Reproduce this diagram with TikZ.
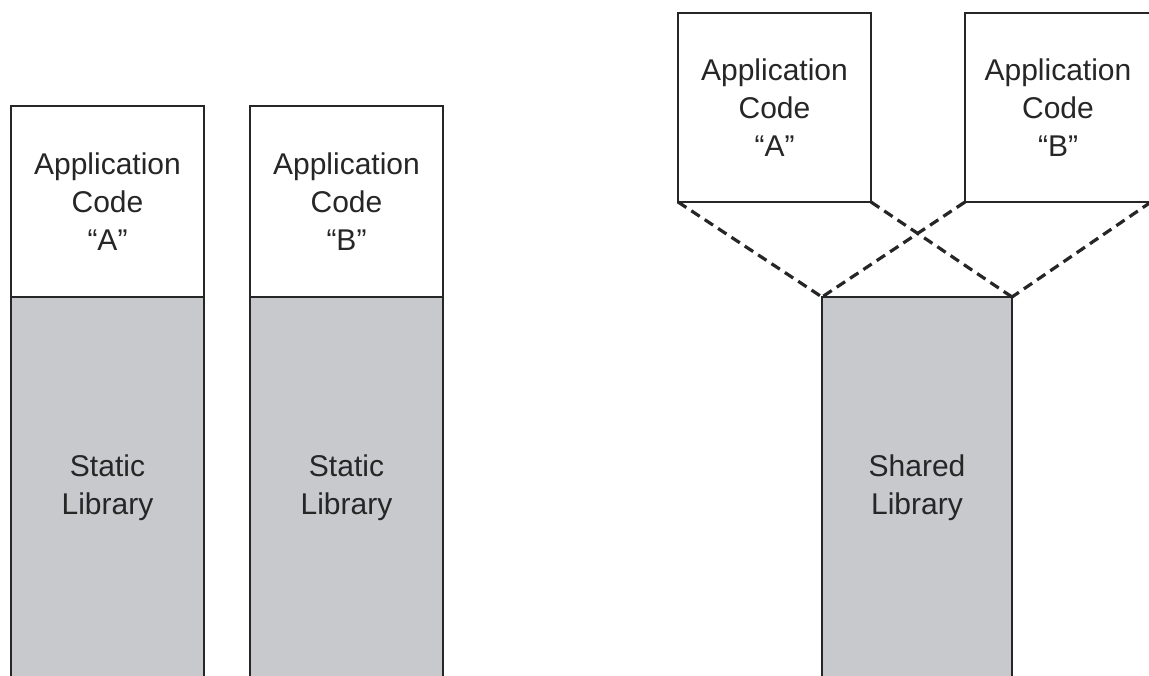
\documentclass[tikz,border=0pt]{standalone}
\usepackage{fontspec}
\setmainfont{Liberation Sans}
\definecolor{libgrey}{HTML}{C8C9CD}
\definecolor{ink}{HTML}{262626}
\begin{document}
\begin{tikzpicture}[x=1pt,y=-1pt,
  box/.style={draw=ink, line width=2.5pt, outer sep=0pt, inner sep=0pt,
    align=center, text=ink, font=\fontsize{30}{38}\selectfont},
  codebox/.style={box, fill=white},
  libbox/.style={box, fill=libgrey},
  link/.style={draw=ink, line width=3.2pt, dash pattern=on 10pt off 6pt}]
\useasboundingbox (0,0) rectangle (1149,675);

% static linking: each program carries its own copy of the library
\node[libbox, minimum width=193pt, minimum height=381pt] (libA) at (107.5,487.5) {Static\\Library};
\node[codebox, minimum width=193pt, minimum height=191pt] (appA) at (107.5,201.5) {Application\\Code\\``A''};
\node[libbox, minimum width=193pt, minimum height=381pt] (libB) at (346.5,487.5) {Static\\Library};
\node[codebox, minimum width=193pt, minimum height=191pt] (appB) at (346.5,201.5) {Application\\Code\\``B''};

% dynamic linking: both programs map one shared library
\node[libbox, minimum width=190pt, minimum height=381pt] (shared) at (917,487.5) {Shared\\Library};
\node[codebox, minimum width=193pt, minimum height=189pt] (dynA) at (774.5,107.5) {Application\\Code\\``A''};
\node[codebox, minimum width=186pt, minimum height=189pt] (dynB) at (1058,107.5) {Application\\Code\\``B''};

\draw[link] (dynA.south west) -- (shared.north west);
\draw[link] (dynA.south east) -- (shared.north east);
\draw[link] (dynB.south west) -- (shared.north west);
\draw[link] (dynB.south east) -- (shared.north east);
\end{tikzpicture}
\end{document}
